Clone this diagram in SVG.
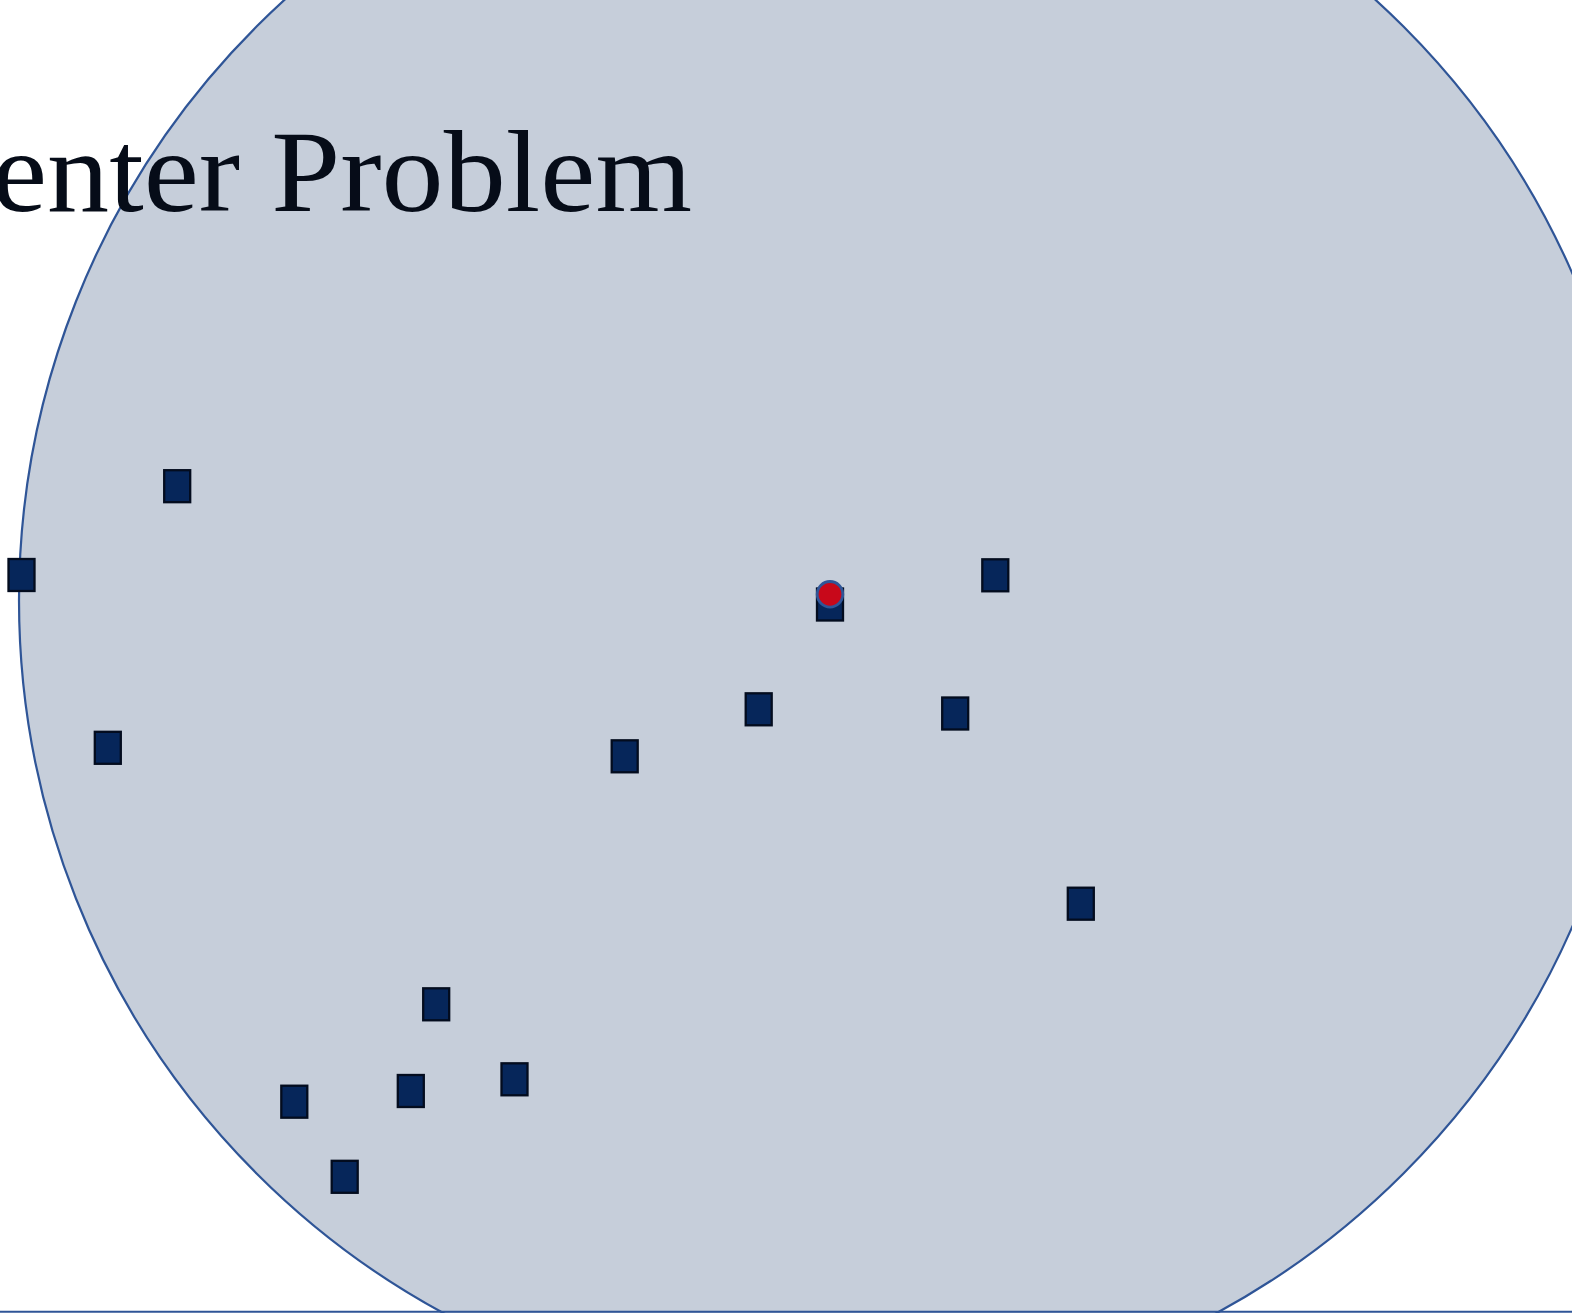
<svg xmlns="http://www.w3.org/2000/svg" width="1572" height="1313" viewBox="0 0 1572 1313">
<style>
.pt{fill:#06265A;stroke:#030C1E;stroke-width:2.3}
.title{font-family:"Liberation Serif","DejaVu Serif",serif;font-size:116px;fill:#060C18}
</style>
<rect x="0" y="0" width="1572" height="1313" fill="#FFFFFF"/>
<g id="region">
<circle cx="830" cy="600" r="811" fill="#C6CEDA" stroke="#2F5597" stroke-width="2.2"/>
</g>
<text class="title" x="-8" y="211" textLength="700" lengthAdjust="spacingAndGlyphs">enter Problem</text>
<g id="points">
<rect id="p1" class="pt" x="164.2" y="470.2" width="26" height="32"/>
<rect id="p2" class="pt" x="8.5" y="559" width="26" height="32"/>
<rect id="p3" class="pt" x="94.8" y="731.8" width="26" height="32"/>
<rect id="p4" class="pt" x="611.7" y="740.3" width="26" height="32"/>
<rect id="p5" class="pt" x="745.7" y="693.3" width="26" height="32"/>
<rect id="p6" class="pt" x="817" y="588.5" width="26" height="32"/>
<rect id="p7" class="pt" x="982.3" y="559.3" width="26" height="32"/>
<rect id="p8" class="pt" x="942.2" y="697.5" width="26" height="32"/>
<rect id="p9" class="pt" x="1067.8" y="887.7" width="26" height="32"/>
<rect id="p10" class="pt" x="423.2" y="988.3" width="26" height="32"/>
<rect id="p11" class="pt" x="501.5" y="1063.3" width="26" height="32"/>
<rect id="p12" class="pt" x="397.8" y="1075" width="26" height="32"/>
<rect id="p13" class="pt" x="281.3" y="1085.7" width="26" height="32"/>
<rect id="p14" class="pt" x="331.7" y="1160.8" width="26" height="32"/>
</g>
<g id="center">
<circle cx="830" cy="594.3" r="12.8" fill="#C8081A" stroke="#2F5597" stroke-width="2.8"/>
</g>
<g id="connectors">
<line x1="0" y1="1311.8" x2="1572" y2="1311.8" stroke="#2F5597" stroke-width="2"/>
</g>
</svg>
